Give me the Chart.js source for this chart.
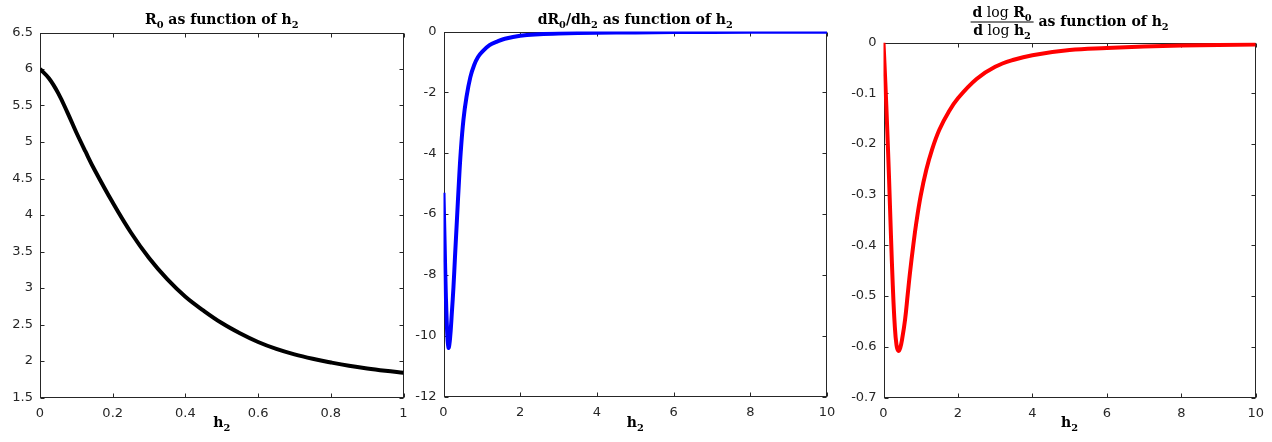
<!DOCTYPE html>
<html>
<head>
<meta charset="utf-8">
<script src="https://cdn.jsdelivr.net/npm/chart.js@4.4.0/dist/chart.umd.min.js"></script>
<style>
  html, body { margin: 0; padding: 0; background: #fff; }
  #wrap { position: relative; width: 1272px; height: 442px; overflow: hidden; }
  #wrap canvas { position: absolute; left: 0; top: 0; }
</style>
</head>
<body>
<div id="wrap">
  <canvas id="c1" width="1272" height="442"></canvas>
  <canvas id="c2" width="1272" height="442"></canvas>
  <canvas id="c3" width="1272" height="442"></canvas>
</div>
<script>
// values
const h2Short = [0, 0.025, 0.05, 0.075, 0.1, 0.125, 0.15, 0.2, 0.25, 0.3, 0.35, 0.4, 0.45, 0.5, 0.55, 0.6, 0.65, 0.7, 0.75, 0.8, 0.85, 0.9, 0.95, 1];
const r0Values = [6.0, 5.87, 5.67, 5.41, 5.13, 4.87, 4.62, 4.17, 3.76, 3.41, 3.12, 2.88, 2.69, 2.52, 2.38, 2.26, 2.165, 2.09, 2.03, 1.98, 1.935, 1.898, 1.867, 1.84];

const h2Slope = [0, 0.03, 0.06, 0.1, 0.13, 0.17, 0.22, 0.26, 0.3, 0.35, 0.4, 0.45, 0.52, 0.6, 0.7, 0.8, 0.9, 1.0, 1.2, 1.4, 1.6, 2, 2.5, 3, 4, 5, 6, 8, 10];
const slopeValues = [-5.3, -7.0, -8.6, -10.0, -10.4, -10.1, -9.2, -8.4, -7.4, -6.2, -5.0, -3.95, -2.9, -2.15, -1.5, -1.1, -0.84, -0.68, -0.45, -0.33, -0.24, -0.14, -0.09, -0.065, -0.04, -0.03, -0.02, -0.012, -0.008];

const h2Elast = [0, 0.05, 0.1, 0.15, 0.2, 0.25, 0.3, 0.35, 0.4, 0.45, 0.5, 0.58, 0.65, 0.71, 0.8, 0.88, 1.0, 1.15, 1.3, 1.5, 1.75, 2.0, 2.5, 3, 3.5, 4, 5, 6, 7, 8, 9, 10];
const elastValues = [0, -0.08, -0.17, -0.27, -0.38, -0.48, -0.555, -0.597, -0.608, -0.602, -0.585, -0.546, -0.497, -0.455, -0.400, -0.356, -0.302, -0.251, -0.212, -0.172, -0.137, -0.110, -0.072, -0.048, -0.034, -0.025, -0.015, -0.011, -0.008, -0.006, -0.005, -0.004];

const INK = '#262626';
const SERIF = '"DejaVu Serif", serif';
const SANS = '"DejaVu Sans", sans-serif';
const TITLE_SIZE = 14;

function setFont(ctx, size, bold) {
  ctx.font = (bold ? 'bold ' : '') + size + 'px ' + SERIF;
}
function partsWidth(ctx, parts, size) {
  let w = 0;
  for (const p of parts) {
    setFont(ctx, p.sub ? size * 0.7 : size, p.bold !== false);
    w += ctx.measureText(p.t).width;
  }
  return w;
}
function drawParts(ctx, parts, x, y, size) {
  for (const p of parts) {
    setFont(ctx, p.sub ? size * 0.7 : size, p.bold !== false);
    ctx.fillText(p.t, x, p.sub ? y + size * 0.25 : y);
    x += ctx.measureText(p.t).width;
  }
  return x;
}

const fmt = v => Number(v.toFixed(3)).toString();

// box, inward ticks on all four sides, titles
const panelDeco = {
  id: 'panelDeco',
  beforeDatasetsDraw(chart) {
    const { ctx, chartArea: a, scales } = chart;
    const L = Math.round(a.left) + 0.5, R = Math.round(a.right) - 0.5;
    const T = Math.round(a.top) + 0.5, B = Math.round(a.bottom) - 0.5;
    ctx.save();
    ctx.strokeStyle = INK;
    ctx.lineWidth = 1;
    ctx.strokeRect(L, T, R - L, B - T);
    ctx.beginPath();
    scales.x.ticks.forEach(t => {
      const px = Math.round(scales.x.getPixelForValue(t.value)) + 0.5;
      ctx.moveTo(px, B); ctx.lineTo(px, B - 4);
      ctx.moveTo(px, T); ctx.lineTo(px, T + 4);
    });
    scales.y.ticks.forEach(t => {
      const py = Math.round(scales.y.getPixelForValue(t.value)) + 0.5;
      ctx.moveTo(L, py); ctx.lineTo(L + 4, py);
      ctx.moveTo(R, py); ctx.lineTo(R - 4, py);
    });
    ctx.stroke();
    ctx.restore();
  },
  afterDraw(chart) {
    const { ctx, chartArea: a } = chart;
    const o = chart.options.plugins.panelDeco;
    const cx = (a.left + a.right) / 2;
    const size = TITLE_SIZE;
    ctx.save();
    ctx.fillStyle = '#000';
    ctx.textBaseline = 'alphabetic';
    ctx.textAlign = 'left';
    if (o.fraction) {
      const nw = partsWidth(ctx, o.num, size), dw = partsWidth(ctx, o.den, size);
      const fw = Math.max(nw, dw) + 4;
      const rw = partsWidth(ctx, o.title, size);
      let x = cx - (fw + rw) / 2;
      drawParts(ctx, o.num, x + (fw - nw) / 2, 17, size);
      drawParts(ctx, o.den, x + (fw - dw) / 2, 35, size);
      ctx.fillRect(x, 21.5, fw, 1);
      drawParts(ctx, o.title, x + fw, 26, size);
    } else {
      const w = partsWidth(ctx, o.title, size);
      drawParts(ctx, o.title, cx - w / 2, 24, size);
    }
    const xl = [{ t: 'h' }, { t: '2', sub: true }];
    const xw = partsWidth(ctx, xl, size);
    drawParts(ctx, xl, cx - xw / 2, 427, size);
    ctx.restore();
  }
};

function makePanel(id, xs, ys, color, box, xr, yr, deco) {
  const tickFont = { family: SANS, size: 13 };
  new Chart(document.getElementById(id), {
    type: 'line',
    data: {
      datasets: [{
        data: xs.map((x, i) => ({ x: x, y: ys[i] })),
        borderColor: color,
        borderWidth: 4,
        pointRadius: 0,
        fill: false,
        tension: 0.4
      }]
    },
    options: {
      responsive: false,
      animation: false,
      events: [],
      layout: {
        padding: { left: box.left - 40, top: box.top, right: 1272 - box.right, bottom: 442 - box.bottom - 30 }
      },
      plugins: { legend: { display: false }, tooltip: { enabled: false }, panelDeco: deco },
      scales: {
        x: {
          type: 'linear', min: xr[0], max: xr[1],
          grid: { display: false, drawTicks: false }, border: { display: false },
          ticks: { stepSize: xr[2], color: INK, font: tickFont, padding: 8, maxRotation: 0, autoSkip: false, callback: fmt },
          afterFit: s => { s.height = 30; }
        },
        y: {
          type: 'linear', min: yr[0], max: yr[1],
          grid: { display: false, drawTicks: false }, border: { display: false },
          ticks: { stepSize: yr[2], color: INK, font: tickFont, padding: 7, autoSkip: false, callback: fmt },
          afterFit: s => { s.width = 40; }
        }
      }
    },
    plugins: [panelDeco]
  });
}

makePanel('c1', h2Short, r0Values, '#000000',
  { left: 40, top: 32.5, right: 403.5, bottom: 397.5 }, [0, 1, 0.2], [1.5, 6.5, 0.5],
  { title: [{ t: 'R' }, { t: '0', sub: true }, { t: ' as function of h' }, { t: '2', sub: true }] });

makePanel('c2', h2Slope, slopeValues, '#0000ff',
  { left: 443.5, top: 31.5, right: 827, bottom: 396.5 }, [0, 10, 2], [-12, 0, 2],
  { title: [{ t: 'dR' }, { t: '0', sub: true }, { t: '/dh' }, { t: '2', sub: true }, { t: ' as function of h' }, { t: '2', sub: true }] });

makePanel('c3', h2Elast, elastValues, '#ff0000',
  { left: 883.5, top: 42.5, right: 1261, bottom: 397.5 }, [0, 10, 2], [-0.7, 0, 0.1],
  {
    fraction: true,
    num: [{ t: 'd' }, { t: ' log ', bold: false }, { t: 'R' }, { t: '0', sub: true }],
    den: [{ t: 'd' }, { t: ' log ', bold: false }, { t: 'h' }, { t: '2', sub: true }],
    title: [{ t: ' as function of h' }, { t: '2', sub: true }]
  });
</script>
</body>
</html>
